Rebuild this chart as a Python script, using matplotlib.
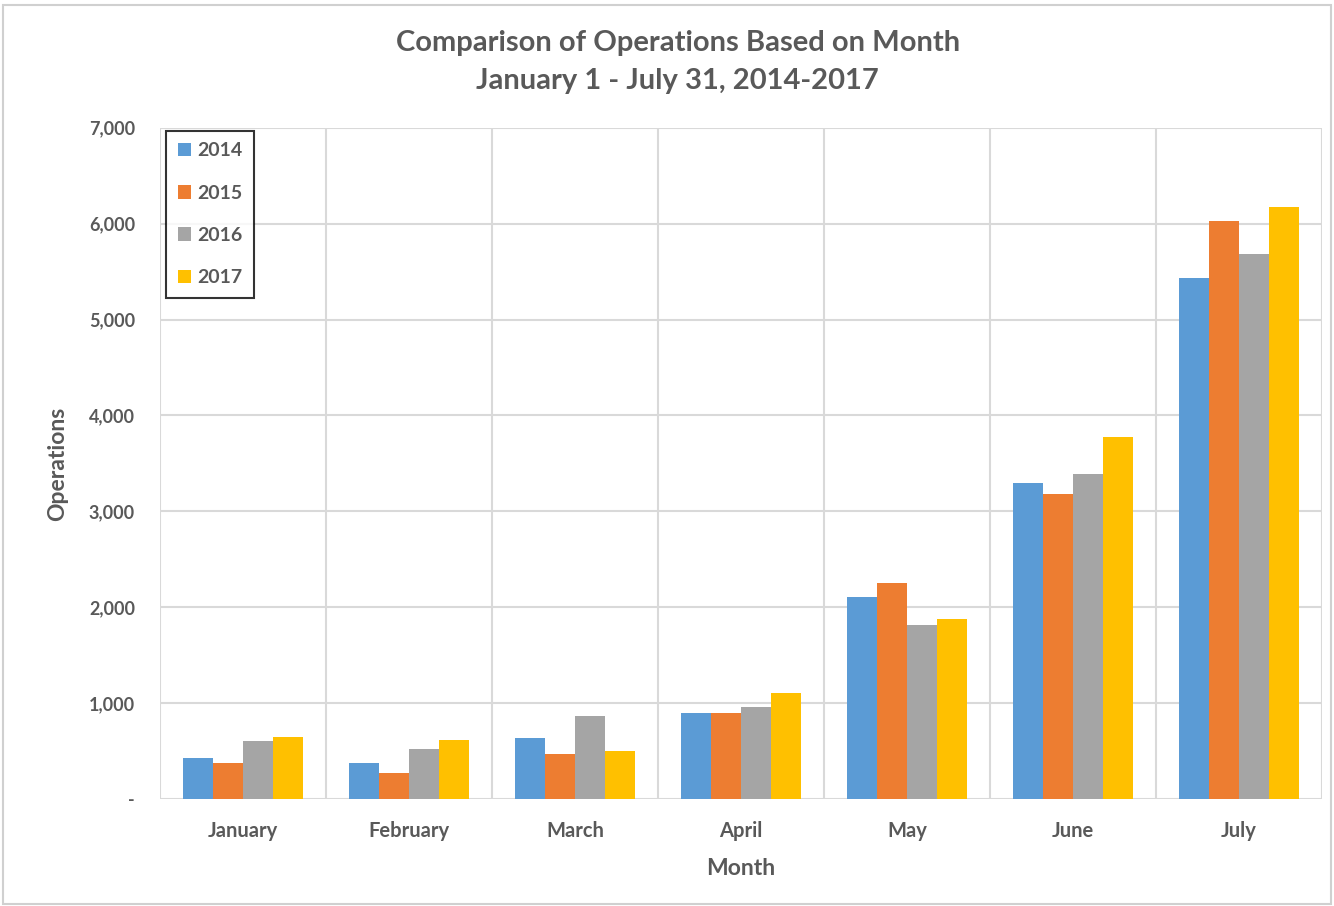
import numpy as np
import matplotlib
matplotlib.use('Agg')
import matplotlib.pyplot as plt
from matplotlib.ticker import FuncFormatter, MultipleLocator

plt.rcParams['font.family'] = ['Lato', 'DejaVu Sans']

# 数据
months = ['January', 'February', 'March', 'April', 'May', 'June', 'July']
years = ['2014', '2015', '2016', '2017']
ops_2014 = [430, 374, 640, 900, 2112, 3295, 5435]
ops_2015 = [374, 272, 467, 898, 2258, 3184, 6023]
ops_2016 = [604, 523, 866, 960, 1819, 3385, 5682]
ops_2017 = [650, 615, 502, 1106, 1876, 3779, 6169]
series = [ops_2014, ops_2015, ops_2016, ops_2017]
colors = ['#5B9BD5', '#ED7D31', '#A5A5A5', '#FFC000']

text_color = '#595959'
grid_color = '#D9D9D9'

fig = plt.figure(figsize=(13.34, 9.06), dpi=100)
ax = fig.add_axes([0.12, 0.118, 0.871, 0.741])

x = np.arange(len(months))
bar_w = 0.18
for i, (vals, yr, c) in enumerate(zip(series, years, colors)):
    ax.bar(x + (i - 1.5) * bar_w, vals, width=bar_w, color=c, label=yr, zorder=3)

ax.set_xlim(-0.5, len(months) - 0.5)
ax.set_ylim(0, 7000)
ax.yaxis.set_major_locator(MultipleLocator(1000))
ax.yaxis.set_major_formatter(FuncFormatter(lambda v, p: '-' if v == 0 else '{:,.0f}'.format(v)))

# 网格线: 水平 + 类别分隔竖线
ax.grid(axis='y', color=grid_color, linewidth=1.5, zorder=0)
for b in np.arange(-0.5, len(months) + 0.5, 1.0):
    ax.axvline(b, color=grid_color, linewidth=1.5, zorder=0)

ax.set_xticks(x)
ax.set_xticklabels(months)
for s in ax.spines.values():
    s.set_visible(False)
ax.tick_params(axis='y', length=0, labelsize=13, labelcolor=text_color, pad=18)
ax.tick_params(axis='x', length=0, labelsize=14.5, labelcolor=text_color, pad=16)
for lbl in ax.get_xticklabels() + ax.get_yticklabels():
    lbl.set_fontweight('bold')

ax.set_xlabel('Month', fontsize=16.5, fontweight='bold', color=text_color, labelpad=12)
ax.set_ylabel('Operations', fontsize=16.5, fontweight='bold', color=text_color, labelpad=15)

fig.text(0.508, 0.952, 'Comparison of Operations Based on Month', ha='center', va='center',
         fontsize=21, fontweight='bold', color=text_color)
fig.text(0.508, 0.911, 'January 1 - July 31, 2014-2017', ha='center', va='center',
         fontsize=21, fontweight='bold', color=text_color)

leg = ax.legend(loc='upper left', bbox_to_anchor=(0.005, 0.9955), fontsize=14,
                frameon=True, fancybox=False, edgecolor='black', handlelength=0.7,
                handleheight=0.7, labelspacing=1.3, borderpad=0.6, handletextpad=0.3,
                borderaxespad=0)
leg.get_frame().set_linewidth(1.5)
for t in leg.get_texts():
    t.set_color(text_color)
    t.set_fontweight('bold')

# 外框
fig.patches.append(plt.Rectangle((0.002, 0.002), 0.996, 0.993, transform=fig.transFigure,
                                 fill=False, edgecolor='#D0D0D0', linewidth=1.5))

fig.savefig('out.png', dpi=100)
